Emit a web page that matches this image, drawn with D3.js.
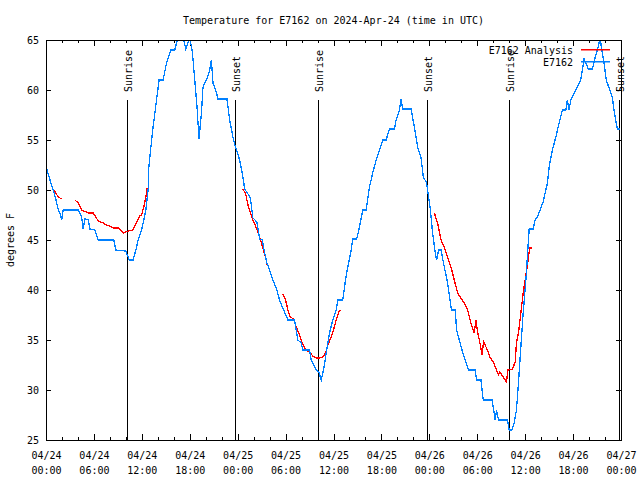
<!DOCTYPE html>
<html>
<head>
<meta charset="utf-8">
<script src="https://cdn.jsdelivr.net/npm/d3@7"></script>
<style>
  html, body { margin: 0; padding: 0; background: #fff; }
  svg { display: block; }
  text { font-family: "DejaVu Sans Mono", "Liberation Mono", monospace; font-size: 10px; fill: #000; }
</style>
</head>
<body>
<svg id="chart" width="640" height="480"></svg>
<script>
// ---- Data (hours since 2024-04-24 00:00 UTC, temperature in °F) ----
const startDay = Date.UTC(2024, 3, 24);
const endDay = Date.UTC(2024, 3, 27);

const obsHours = [0.09,0.5,0.91,1.25,1.54,1.84,1.96,2.16,4.04,4.46,4.66,4.875,5.29,5.5,6.125,6.54,8.5,8.75,10,10.41,10.91,11.25,11.54,11.96,12.25,12.5,12.79,12.875,13,13.41,13.84,14.16,14.66,15.09,15.625,16.125,16.54,17.16,17.5,18,18.34,18.625,18.91,19.16,19.46,19.66,20.09,20.5,20.71,20.91,21.25,21.54,22.66,23,23.41,23.66,24.25,24.66,24.875,25.29,25.59,25.91,26.41,26.75,27.09,27.375,27.66,28,28.41,28.91,29.25,29.75,30.29,31.125,31.54,31.96,32.16,33,33.21,33.84,34.16,34.46,34.75,35.09,35.5,35.91,36.34,36.54,37.16,37.5,37.79,38.21,38.41,38.91,39.25,39.66,40.09,40.5,40.91,41.34,41.75,42.16,42.59,43,43.625,43.84,44.25,44.46,44.66,45.71,46.125,46.54,46.96,47.25,47.66,48.09,48.41,48.75,48.91,49.16,49.46,49.875,50.29,50.71,50.84,51.25,51.41,51.75,52.09,52.5,52.91,53.75,53.91,54.46,54.75,55.84,56.125,56.25,56.41,56.66,57.79,58,58.34,58.625,58.91,59.16,59.46,59.75,60.09,60.29,60.5,61,61.25,61.54,61.96,62.25,62.5,62.79,63,63.41,63.84,64.25,64.66,65.09,65.29,65.5,65.71,66.125,66.54,66.96,67.16,67.375,67.59,67.91,68.41,68.84,69.16,69.375,69.59,69.875,70.16,70.59,70.91,71.125,71.34,71.54,71.9];
const obsTemps = [52.1,51,50,49,48,47.5,47,48,48,47.3,46.1,47.1,47,46.1,46,45,45,44,43.9,43,43,44,45,46,47,48,50,52.3,53.3,56.3,59,61,61,62.7,64,64,65.3,65.3,64.1,65.3,63.7,61,58.3,55.1,57.7,60.3,61,62,63,60.7,60,59.1,59.1,57,55.3,54.5,53,51.3,50.1,49.6,49.2,47.2,46.8,45.1,45,43.7,42.7,42,41,40,39,38,37,37,35,34.7,34,34,33,32,31.8,31,32,33.7,35.7,37,38,39,39,41,42.3,44,45.1,45.1,46.3,48,48,50.3,51.7,53,54,55,55,56.1,56.1,57,58,59.1,58.1,58.1,56.3,54.3,53.2,51.3,50.7,48.3,45.7,43.7,43,44,44,42.3,40.7,38.3,38,38,36,35,34,33,32,32,31,31,29,29,27.7,27,28,27,27,26,26,26.7,28,30.7,34.3,37.7,41,43.5,46.1,46.1,47,47.3,48.2,48.8,49.7,50.7,52.3,54,55.3,56.7,58,58,59,58,59,59.7,60.3,61,62,63.1,62.7,62.1,62.1,63.5,64.3,65.3,64,62.7,61,60,59.3,58,57,56.1,56.1];

// analysis series; null marks a gap
const anaHours = [0.91,1.54,1.96,null,3.625,4.04,4.46,4.75,5.29,5.91,6.54,7.16,7.59,8,8.41,9.04,9.66,10.29,10.84,11.34,11.75,11.96,12.25,12.5,12.66,null,24.66,25,25.29,25.59,25.91,26.34,26.75,27.16,27.5,27.71,null,29.66,30,30.29,30.59,31,31.34,31.75,32.09,32.5,33,33.41,33.84,34.25,34.66,35,35.29,35.71,36,36.34,36.66,36.84,null,48.625,49.04,49.46,49.875,50.29,50.71,51.125,51.54,51.96,52.375,52.79,53.21,53.625,53.84,54.04,54.34,54.59,54.79,55.16,55.59,56,56.41,56.66,56.84,57.25,57.66,57.84,58.41,58.75,58.91,59.16,59.46,59.75,60,60.29,60.41,60.59,60.84];
const anaTemps = [50.1,49.3,49.1,null,49,48.7,48,47.9,47.7,47.7,46.9,46.7,46.5,46.4,46.2,46.2,45.7,45.9,46,46.8,47.4,47.5,48.3,49.3,50.2,null,50.1,49.6,48.5,47.7,47,46.2,45.3,44.2,43.2,42.5,null,39.6,39,38,37.3,37.1,36.3,35.5,34.7,34,33.8,33.4,33.2,33.2,33.3,33.7,34.5,35.3,36,37,37.8,38,null,47.7,46.7,45,44.3,43.3,42.3,41,39.7,39.2,38.7,38,36.7,35.7,37,35.8,34.7,33.5,34.8,34.2,33.3,32.8,32,31.5,31.8,31.3,30.8,32,32.1,32.8,34.7,35.7,37.7,39.7,41,42.5,43.3,44.2,44.2];

const sunHours = [10.16, 23.66, 34.04, 47.66, 58.0, 71.7];
const sunLabels = ["Sunrise", "Sunset", "Sunrise", "Sunset", "Sunrise", "Sunset"];

const yTicks = [25, 30, 35, 40, 45, 50, 55, 60, 65];
const titleText = "Temperature for E7162 on 2024-Apr-24 (time in UTC)";
const yLabel = "degrees F";
const seriesNames = ["E7162 Analysis", "E7162"];
const seriesColors = ["#ff0000", "#0080ff"];

// ---- Build ----
const toDate = h => new Date(startDay + h * 3600e3);
const obs = obsHours.map((h, i) => ({ d: toDate(h), t: obsTemps[i] }));
const ana = anaHours.map((h, i) => ({ d: h == null ? null : toDate(h), t: anaTemps[i] }));

const L = 46, R = 621, T = 40, B = 440;
const svg = d3.select("#chart");
const x = d3.scaleUtc().domain([new Date(startDay), new Date(endDay)]).range([L, R]);
const y = d3.scaleLinear().domain([25, 65]).range([B, T]);

svg.append("defs").append("clipPath").attr("id", "plotclip")
  .append("rect").attr("x", L).attr("y", T).attr("width", R - L + 1).attr("height", B - T);

// minor x ticks (2h), bottom + top
const minorBottom = d3.axisBottom(x).ticks(d3.utcHour.every(2)).tickSize(-3).tickFormat("");
const minorTop = d3.axisTop(x).ticks(d3.utcHour.every(2)).tickSize(-3).tickFormat("");
svg.append("g").attr("transform", `translate(0,${B})`).call(minorBottom).call(g => g.select(".domain").remove());
svg.append("g").attr("transform", `translate(0,${T})`).call(minorTop).call(g => g.select(".domain").remove());

// major x ticks (6h)
const fmtDay = d3.utcFormat("%m/%d"), fmtTime = d3.utcFormat("%H:%M");
const xAxis = d3.axisBottom(x).ticks(d3.utcHour.every(6)).tickSize(-6).tickFormat(d => fmtDay(d));
const gx = svg.append("g").attr("transform", `translate(0,${B})`).call(xAxis);
gx.select(".domain").remove();
gx.selectAll(".tick text").each(function(d) {
  const t = d3.select(this);
  t.text(null).attr("y", 19).attr("dy", null);
  t.append("tspan").attr("x", 0).text(fmtDay(d));
  t.append("tspan").attr("x", 0).attr("dy", 15).text(fmtTime(d));
});
const xAxisTop = d3.axisTop(x).ticks(d3.utcHour.every(6)).tickSize(-6).tickFormat("");
svg.append("g").attr("transform", `translate(0,${T})`).call(xAxisTop).call(g => g.select(".domain").remove());

// y axes
const yAxis = d3.axisLeft(y).tickValues(yTicks).tickSize(-5).tickPadding(7).tickFormat(d3.format("d"));
const gy = svg.append("g").attr("transform", `translate(${L},0)`).call(yAxis);
gy.select(".domain").remove();
gy.selectAll(".tick text").attr("dy", "0.35em");
const yAxisR = d3.axisRight(y).tickValues(yTicks).tickSize(-5).tickFormat("");
svg.append("g").attr("transform", `translate(${R},0)`).call(yAxisR).call(g => g.select(".domain").remove());

svg.selectAll(".tick line").attr("stroke", "#000").attr("shape-rendering", "crispEdges");
svg.selectAll(".tick text").attr("fill", "#000").attr("font-family", null).attr("font-size", null);

// sunrise / sunset markers
const sunG = svg.append("g");
sunHours.forEach((h, i) => {
  const sx = Math.round(x(toDate(h))) + 0.5;
  sunG.append("line").attr("x1", sx).attr("x2", sx).attr("y1", y(59)).attr("y2", B)
    .attr("stroke", "#000").attr("stroke-width", 1).attr("shape-rendering", "crispEdges");
  sunG.append("text").attr("transform", `translate(${sx + 4},92) rotate(-90)`)
    .attr("text-anchor", "start").text(sunLabels[i]);
});

// data lines
const line = d3.line().defined(d => d.t != null).x(d => x(d.d)).y(d => y(d.t));
const plot = svg.append("g").attr("clip-path", "url(#plotclip)");
plot.append("path").datum(ana).attr("d", line).attr("fill", "none")
  .attr("stroke", seriesColors[0]).attr("stroke-width", 1.3).attr("shape-rendering", "crispEdges");
plot.append("path").datum(obs).attr("d", line).attr("fill", "none")
  .attr("stroke", seriesColors[1]).attr("stroke-width", 1.3).attr("shape-rendering", "crispEdges");

// border
svg.append("rect").attr("x", L + 0.5).attr("y", T + 0.5).attr("width", R - L).attr("height", B - T)
  .attr("fill", "none").attr("stroke", "#000").attr("stroke-width", 1).attr("shape-rendering", "crispEdges");

// title & axis label
svg.append("text").attr("x", (L + R) / 2).attr("y", 24).attr("text-anchor", "middle").text(titleText);
svg.append("text").attr("transform", `translate(14,${(T + B) / 2}) rotate(-90)`)
  .attr("text-anchor", "middle").text(yLabel);

// legend
const leg = svg.append("g");
seriesNames.forEach((name, i) => {
  const ly = 50 + i * 12;
  leg.append("text").attr("x", 573).attr("y", ly).attr("dy", "0.35em").attr("text-anchor", "end").text(name);
  leg.append("rect").attr("x", 581).attr("y", ly - 1).attr("width", 29).attr("height", 1.5)
    .attr("fill", seriesColors[i]);
});
</script>
</body>
</html>
